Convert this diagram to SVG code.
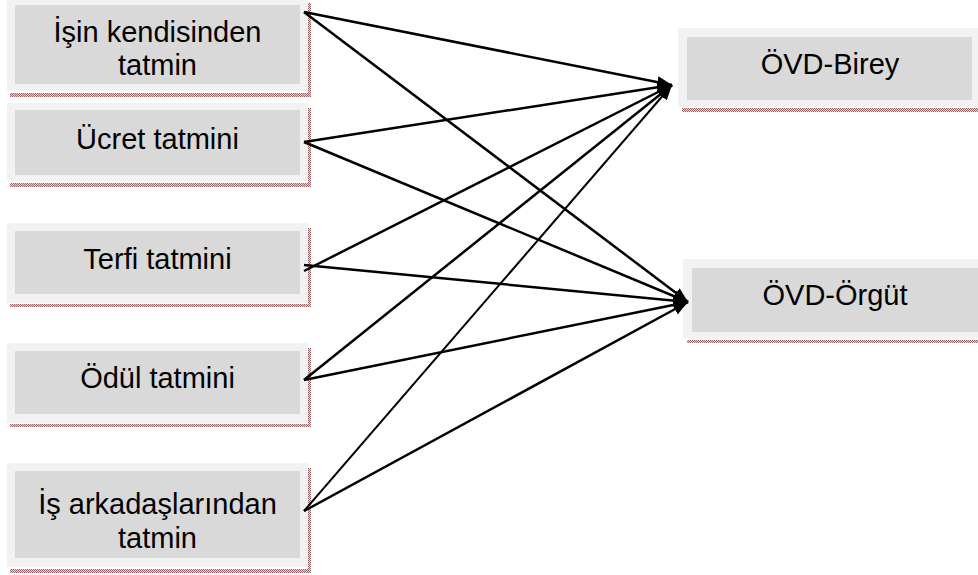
<svg xmlns="http://www.w3.org/2000/svg" width="978" height="575" viewBox="0 0 978 575">
<defs>
<pattern id="dots" width="2" height="2" patternUnits="userSpaceOnUse">
<rect width="2" height="2" fill="#e8d6d6"/>
<rect width="1" height="1" fill="#9a6464"/>
<rect x="1" y="1" width="1" height="1" fill="#9a6464"/>
</pattern>
<marker id="ah" viewBox="0 0 15 12" refX="15" refY="6" markerWidth="15" markerHeight="12" markerUnits="userSpaceOnUse" orient="auto">
<path d="M0,0 L15,6 L0,12 z" fill="#000"/>
</marker>
<style>
.outer{fill:#f2f2f2}
.inner{fill:#d9d9d9}
.sh{fill:url(#dots)}
.t{font-family:"Liberation Sans",Arial,sans-serif;font-size:29px;fill:#000;text-anchor:middle}
.c{stroke:#000;stroke-width:2.5;fill:none;marker-end:url(#ah)}
</style>
</defs>
<rect width="978" height="575" fill="#fff"/>

<g id="n1">
<rect class="sh" x="308" y="3" width="3" height="94"/>
<rect class="sh" x="10" y="93" width="301" height="4"/>
<rect class="outer" x="7" y="-3" width="301" height="94"/>
<rect class="inner" x="15" y="5" width="285" height="79"/>
<text class="t" x="157.5" y="42">İşin kendisinden</text>
<text class="t" x="157.5" y="75">tatmin</text>
</g>

<g id="n2">
<rect class="sh" x="308" y="108" width="3" height="79"/>
<rect class="sh" x="10" y="183" width="301" height="4"/>
<rect class="outer" x="7" y="103" width="301" height="78"/>
<rect class="inner" x="15" y="110" width="285" height="65"/>
<text class="t" x="157.5" y="149">Ücret tatmini</text>
</g>

<g id="n3">
<rect class="sh" x="308" y="228" width="3" height="79"/>
<rect class="sh" x="10" y="304" width="301" height="3"/>
<rect class="outer" x="7" y="223" width="301" height="80"/>
<rect class="inner" x="15" y="231" width="285" height="63"/>
<text class="t" x="157.5" y="269">Terfi tatmini</text>
</g>

<g id="n4">
<rect class="sh" x="308" y="348" width="3" height="79"/>
<rect class="sh" x="10" y="424" width="301" height="3"/>
<rect class="outer" x="7" y="343" width="301" height="80"/>
<rect class="inner" x="15" y="351" width="285" height="63"/>
<text class="t" x="157.5" y="388">Ödül tatmini</text>
</g>

<g id="n5">
<rect class="sh" x="308" y="468" width="3" height="105"/>
<rect class="sh" x="10" y="569" width="301" height="4"/>
<rect class="outer" x="7" y="463" width="301" height="104"/>
<rect class="inner" x="15" y="471" width="285" height="87"/>
<text class="t" x="157.5" y="514">İş arkadaşlarından</text>
<text class="t" x="157.5" y="548">tatmin</text>
</g>

<g id="r1">
<rect class="sh" x="682" y="108" width="300" height="4"/>
<rect class="outer" x="678" y="28" width="310" height="79"/>
<rect class="inner" x="687" y="37" width="285" height="63"/>
<text class="t" x="830" y="74">ÖVD-Birey</text>
</g>

<g id="r2">
<rect class="sh" x="687" y="340" width="300" height="3"/>
<rect class="outer" x="683" y="259" width="310" height="79"/>
<rect class="inner" x="692" y="268" width="290" height="64"/>
<text class="t" x="835" y="305">ÖVD-Örgüt</text>
</g>

<g id="connectors">
<line class="c" x1="304" y1="12" x2="672" y2="85"/>
<line class="c" x1="304" y1="12" x2="688" y2="302"/>
<line class="c" x1="304" y1="142" x2="672" y2="85"/>
<line class="c" x1="304" y1="142" x2="688" y2="302"/>
<line class="c" x1="304" y1="271" x2="672" y2="85"/>
<line class="c" x1="304" y1="265" x2="688" y2="302"/>
<line class="c" x1="304" y1="380" x2="672" y2="85"/>
<line class="c" x1="304" y1="380" x2="688" y2="302"/>
<line class="c" x1="304" y1="511" x2="672" y2="85" style="stroke-width:2"/>
<line class="c" x1="304" y1="511" x2="688" y2="302"/>
</g>
</svg>
